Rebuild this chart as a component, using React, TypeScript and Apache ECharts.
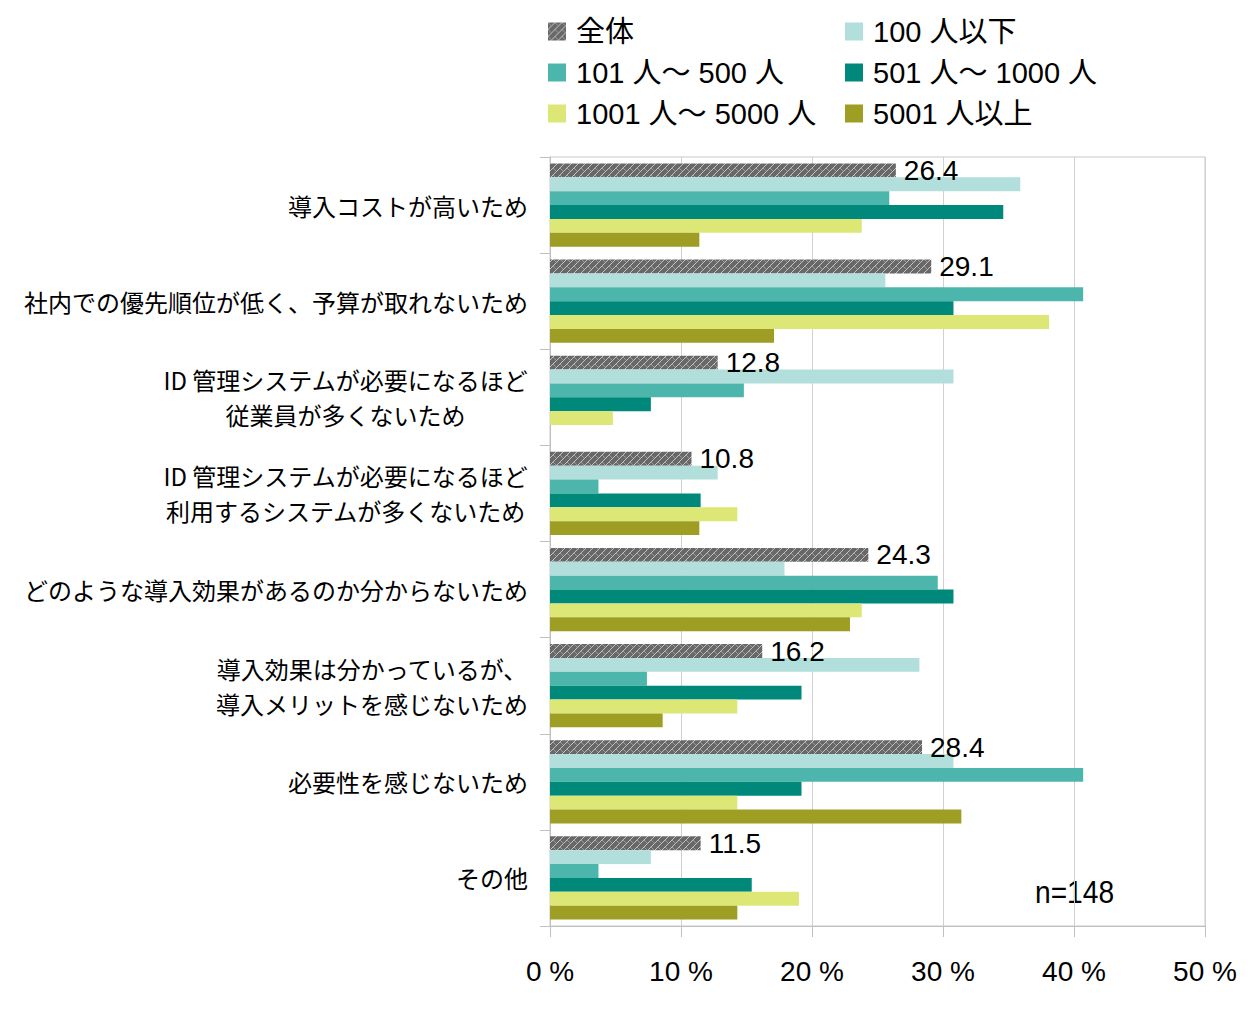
import React, { useEffect, useRef } from 'react';
import * as echarts from 'echarts';

const categories = [
  '導入コストが高いため',
  '社内での優先順位が低く、予算が取れないため',
  'ID 管理システムが必要になるほど\n従業員が多くないため',
  'ID 管理システムが必要になるほど\n利用するシステムが多くないため',
  'どのような導入効果があるのか分からないため',
  '導入効果は分かっているが、\n導入メリットを感じないため',
  '必要性を感じないため',
  'その他',
];
const seriesNames = ['全体', '100 人以下', '101 人〜 500 人', '501 人〜 1000 人', '1001 人〜 5000 人', '5001 人以上'];
const totalAll = [26.4, 29.1, 12.8, 10.8, 24.3, 16.2, 28.4, 11.5];
const under100 = [35.9, 25.6, 30.8, 12.8, 17.9, 28.2, 30.8, 7.7];
const from101to500 = [25.9, 40.7, 14.8, 3.7, 29.6, 7.4, 40.7, 3.7];
const from501to1000 = [34.6, 30.8, 7.7, 11.5, 30.8, 19.2, 19.2, 15.4];
const from1001to5000 = [23.8, 38.1, 4.8, 14.3, 23.8, 14.3, 14.3, 19.0];
const over5001 = [11.4, 17.1, 0, 11.4, 22.9, 8.6, 31.4, 14.3];
const xTickMax = 50;
const xTickStep = 10;
const sampleNote = 'n=148';

const colors = ['#666666', '#b2dfdb', '#4db6ac', '#00897b', '#dce775', '#9e9d24'];
const latin = "'Liberation Sans', 'Noto Sans CJK JP', sans-serif";
const jp = "'Noto Sans CJK JP', sans-serif";

function makePattern() {
  const w = 7;
  const h = 7;
  const c = document.createElement('canvas');
  c.width = w;
  c.height = h;
  const ctx = c.getContext('2d')!;
  ctx.fillStyle = '#686868';
  ctx.fillRect(0, 0, w, h);
  ctx.strokeStyle = 'rgba(205,205,205,0.9)';
  ctx.lineWidth = 1;
  ctx.beginPath();
  ctx.moveTo(0, h);
  ctx.lineTo(w, 0);
  ctx.stroke();
  ctx.strokeStyle = 'rgba(185,185,185,0.6)';
  ctx.beginPath();
  ctx.moveTo(0, 0);
  ctx.lineTo(w / 2, h / 2);
  ctx.stroke();
  return { image: c.toDataURL(), repeat: 'repeat', imageWidth: w, imageHeight: h };
}

export default function App() {
  const ref = useRef<HTMLDivElement>(null);
  useEffect(() => {
    if (!ref.current) return;
    const chart = echarts.init(ref.current, undefined, { renderer: 'svg' });
    const pattern = makePattern();
    const dataSets = [totalAll, under100, from101to500, from501to1000, from1001to5000, over5001];
    const series = dataSets.map((d, i) => ({
      name: seriesNames[i],
      type: 'bar',
      data: d,
      barGap: '0%',
      barCategoryGap: '13.5%',
      itemStyle: { color: i === 0 ? pattern : colors[i] },
      label:
        i === 0
          ? {
              show: true,
              position: 'right',
              distance: 8,
              formatter: (p: any) => Number(p.value).toFixed(1),
              fontSize: 28,
              fontFamily: latin,
              color: '#000',
            }
          : { show: false },
    }));
    const legendCommon = {
      orient: 'vertical',
      top: 17,
      padding: 0,
      itemGap: 12,
      itemWidth: 18,
      itemHeight: 18,
      icon: 'rect',
      selectedMode: false,
      textStyle: { fontSize: 29, lineHeight: 29, fontFamily: latin, color: '#000', padding: [0, 0, 0, 5] },
    };
    chart.setOption({
      animation: false,
      backgroundColor: '#ffffff',
      color: colors,
      legend: [
        { ...legendCommon, left: 548, data: [seriesNames[0], seriesNames[2], seriesNames[4]] },
        { ...legendCommon, left: 845, data: [seriesNames[1], seriesNames[3], seriesNames[5]] },
      ],
      grid: {
        left: 550,
        right: 50,
        top: 157,
        bottom: 84,
        show: true,
        borderColor: '#c8c8c8',
        borderWidth: 1,
        backgroundColor: 'transparent',
      },
      xAxis: {
        type: 'value',
        min: 0,
        max: xTickMax,
        interval: xTickStep,
        axisLine: { show: true, lineStyle: { color: '#c0c0c0', width: 1 } },
        axisTick: { show: true, length: 11, lineStyle: { color: '#c0c0c0' } },
        splitLine: { show: true, lineStyle: { color: '#d0d0d0', width: 1 } },
        axisLabel: {
          formatter: '{value} %',
          fontSize: 28,
          fontFamily: latin,
          color: '#000',
          margin: 31,
        },
      },
      yAxis: {
        type: 'category',
        data: categories,
        inverse: true,
        axisLine: { show: true, lineStyle: { color: '#c0c0c0', width: 1 } },
        axisTick: { show: true, length: 10, lineStyle: { color: '#c0c0c0' } },
        axisLabel: {
          margin: 22,
          align: 'right',
          formatter: (v: string) => `{c|${v}}`,
          rich: {
            c: { align: 'center', fontSize: 24, lineHeight: 35, fontFamily: jp, color: '#000' },
          },
        },
      },
      graphic: [
        {
          type: 'text',
          x: 1035,
          y: 892,
          scaleX: 0.88,
          style: {
            text: sampleNote,
            fontSize: 32,
            fontFamily: latin,
            fill: '#000',
            textAlign: 'left',
            textVerticalAlign: 'middle',
          },
        },
      ],
      series,
    });
    return () => chart.dispose();
  }, []);
  return <div ref={ref} style={{ position: 'absolute', left: 0, top: 0, width: 1255, height: 1010 }} />;
}
